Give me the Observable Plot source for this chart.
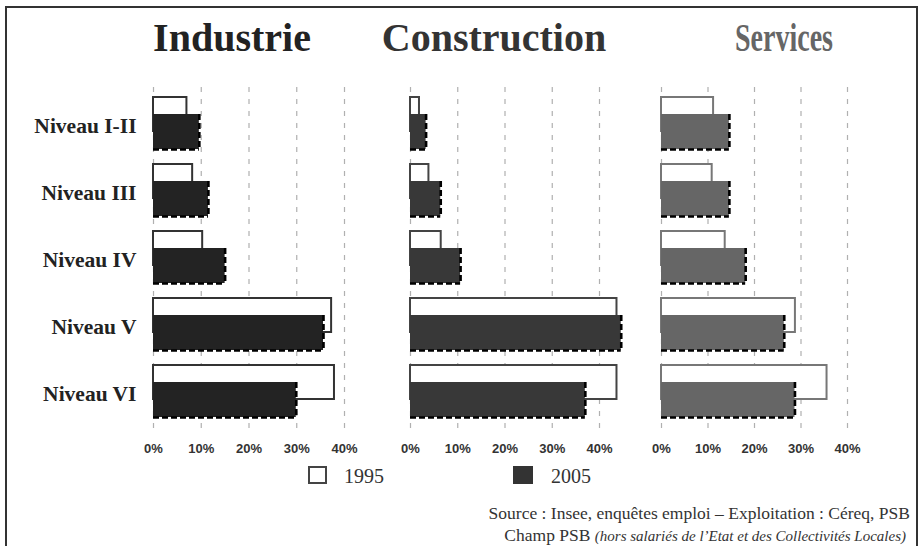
<!DOCTYPE html>
<html><head><meta charset="utf-8">
<script src="https://cdn.jsdelivr.net/npm/d3@7"></script>
<script src="https://cdn.jsdelivr.net/npm/@observablehq/plot@0.6"></script>
<style>
body{margin:0;background:#fff;}
#frame{position:relative;width:922px;height:546px;overflow:hidden;background:#fff;}
.box{position:absolute;left:5px;top:6px;width:913px;height:580px;border:2px solid #333;box-sizing:border-box;}
.title{position:absolute;top:18px;font-family:"Liberation Serif","DejaVu Serif",serif;font-weight:bold;font-size:40px;line-height:40px;transform:translateX(-50%);white-space:nowrap;}
.panel{position:absolute;top:0;}
.leg{position:absolute;font-family:"Liberation Serif","DejaVu Serif",serif;font-size:20px;color:#333;line-height:20px;}
.sq{position:absolute;box-sizing:border-box;}
.src{position:absolute;right:12px;font-family:"Liberation Serif","DejaVu Serif",serif;font-size:17.5px;color:#333;white-space:nowrap;line-height:18px;}
.src i{font-size:15px;}
</style></head>
<body>
<div id="frame">
  <div class="box"></div>
  <div class="title" style="left:232px;color:#222">Industrie</div>
  <div class="title" style="left:494px;color:#333">Construction</div>
  <div class="title" style="left:784px;color:#666;transform:translateX(-50%) scaleX(0.7)">Services</div>
  <div class="sq" style="left:308px;top:466px;width:19px;height:18px;border:2px solid #444;background:#fff"></div>
  <div class="leg" style="left:344px;top:466px">1995</div>
  <div class="sq" style="left:513px;top:466px;width:20px;height:18px;background:#333"></div>
  <div class="leg" style="left:551px;top:466px">2005</div>
  <div class="src" style="top:504px">Source : Insee, enquêtes emploi – Exploitation : Céreq, PSB</div>
  <div class="src" style="top:526px;right:16px">Champ PSB <i>(hors salariés de l’Etat et des Collectivités Locales)</i></div>
</div>
<script>
const niveaux = ["Niveau I-II", "Niveau III", "Niveau IV", "Niveau V", "Niveau VI"];
const secteurs = ["Industrie", "Construction", "Services"];
const ticks = [0, 0.1, 0.2, 0.3, 0.4];
// percentages
const industrie1995 = [7.0, 8.2, 10.3, 37.3, 37.9];
const industrie2005 = [9.6, 11.5, 15.0, 35.6, 29.9];
const construction1995 = [1.9, 3.9, 6.5, 43.7, 43.7];
const construction2005 = [3.3, 6.4, 10.6, 44.6, 37.0];
const services1995 = [11.2, 10.9, 13.7, 28.8, 35.6];
const services2005 = [14.6, 14.6, 18.1, 26.4, 28.7];

const panels = [
  {name: "Industrie", v95: industrie1995, v05: industrie2005, dark: "#232323", s95: "#333", left: 0, ml: 153, w: 191, yaxis: true},
  {name: "Construction", v95: construction1995, v05: construction2005, dark: "#383838", s95: "#444", left: 380, ml: 30, w: 189, yaxis: false},
  {name: "Services", v95: services1995, v05: services2005, dark: "#666", s95: "#777", left: 631, ml: 30, w: 186, yaxis: false}
];

const frame = document.getElementById("frame");
for (const p of panels) {
  const data = niveaux.map((n, i) => ({niveau: n, v95: p.v95[i] / 100, v05: p.v05[i] / 100}));
  const mr = 28;
  const marks = [
    Plot.gridX({ticks, stroke: "#b0b0b0", strokeOpacity: 1, strokeWidth: 1.2, strokeDasharray: "5,7"}),
    Plot.barX(data, {x: "v95", y: "niveau", fill: "white", stroke: p.s95, strokeWidth: 2, insetBottom: 18}),
    Plot.barX(data, {x: "v05", y: "niveau", fill: p.dark, insetTop: 17}),
    Plot.tickX(data, {x: "v05", y: "niveau", insetTop: 17, stroke: "black", strokeWidth: 2.6, strokeDasharray: "6,3"}),
    Plot.ruleY(data, {x1: 0, x2: "v05", y: "niveau", dy: 26, stroke: "black", strokeWidth: 2.6, strokeDasharray: "6,3"}),
    Plot.axisX({ticks, tickFormat: d3.format(".0%"), tickSize: 0, tickPadding: 15, label: null,
      fontFamily: "'Liberation Sans', Arial, sans-serif", fontWeight: "bold", fontSize: 13, fill: "#333"})
  ];
  if (p.yaxis) marks.push(Plot.axisY({tickSize: 0, tickPadding: 17, label: null, dy: 3,
      fontFamily: "'Liberation Serif', serif", fontWeight: "bold", fontSize: 21.5, fill: "#222"}));
  const chart = Plot.plot({
    width: p.ml + p.w + mr, height: 470,
    marginLeft: p.ml, marginRight: mr, marginTop: 87, marginBottom: 42,
    style: {background: "transparent", overflow: "visible"},
    x: {domain: [0, 0.4]},
    y: {domain: niveaux, paddingInner: 0.22, paddingOuter: 0.118, axis: p.yaxis ? undefined : null},
    marks
  });
  chart.classList.add("panel");
  chart.style.left = p.left + "px";
  frame.appendChild(chart);
}
</script>
</body></html>
